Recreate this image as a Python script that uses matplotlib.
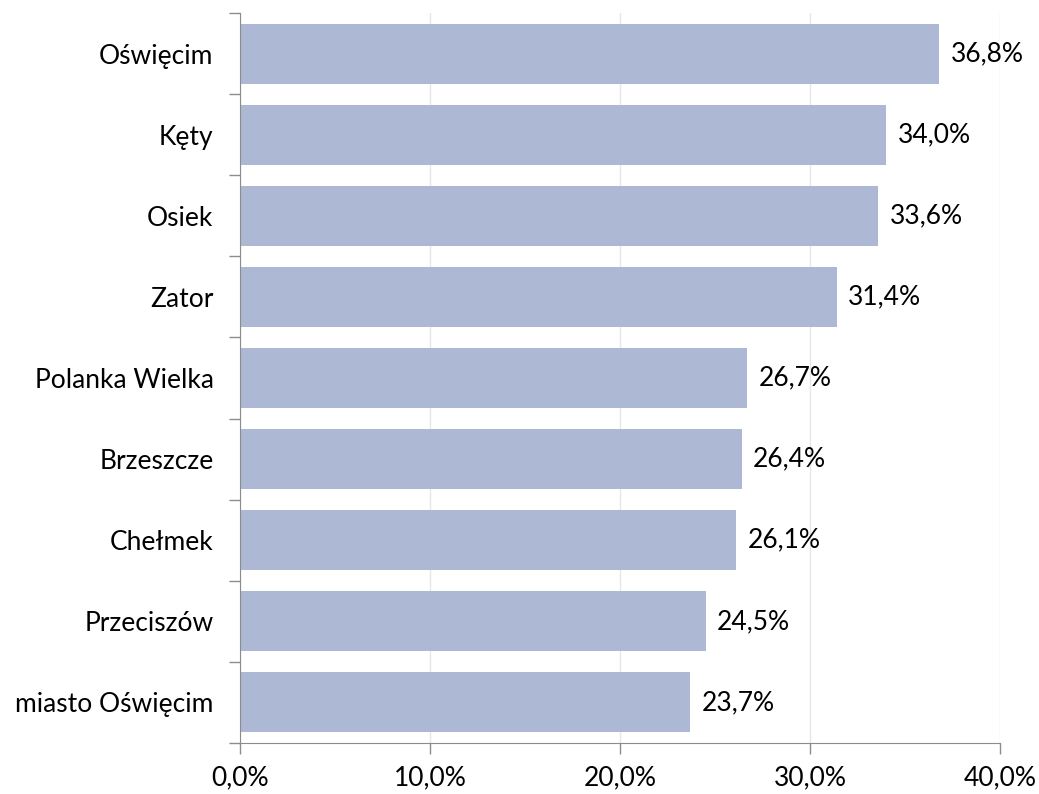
import numpy as np
import matplotlib.pyplot as plt
from matplotlib.ticker import FuncFormatter, FixedLocator

# dane
gminy = ['Oświęcim', 'Kęty', 'Osiek', 'Zator', 'Polanka Wielka',
         'Brzeszcze', 'Chełmek', 'Przeciszów', 'miasto Oświęcim']
wartosci = [36.8, 34.0, 33.6, 31.4, 26.7, 26.4, 26.1, 24.5, 23.7]

plt.rcParams['font.family'] = ['Lato', 'DejaVu Sans']

fig = plt.figure(figsize=(10.39, 7.94), dpi=100)
ax = fig.add_axes([0.231, 0.0642, 0.7315, 0.9194])

y = np.arange(len(gminy))
ax.barh(y, wartosci, height=0.74, color='#adb8d5', zorder=2)

for yi, v in zip(y, wartosci):
    ax.text(v + 0.6, yi, f'{v:.1f}%'.replace('.', ','), va='center', ha='left',
            fontsize=19, color='#000000')

ax.set_xlim(0, 40)
ax.set_ylim(len(gminy) - 0.5, -0.5)
ax.set_xticks([0, 10, 20, 30, 40])
ax.xaxis.set_major_formatter(FuncFormatter(lambda x, p: f'{x:.1f}%'.replace('.', ',')))
ax.set_yticks(y)
ax.set_yticklabels(gminy)
ax.yaxis.set_minor_locator(FixedLocator(np.arange(-0.5, len(gminy), 1)))
ax.tick_params(axis='y', which='major', length=0, pad=19, labelsize=19)
ax.tick_params(axis='y', which='minor', length=8, color='#8c8c8c', width=1)
ax.tick_params(axis='x', length=8, color='#8c8c8c', width=1, labelsize=19, pad=8)

ax.grid(axis='x', color='#e6e6e6', linewidth=1, zorder=0)
for s in ['top', 'right']:
    ax.spines[s].set_visible(False)
for s in ['left', 'bottom']:
    ax.spines[s].set_color('#8c8c8c')

fig.savefig('out.png', dpi=100)
